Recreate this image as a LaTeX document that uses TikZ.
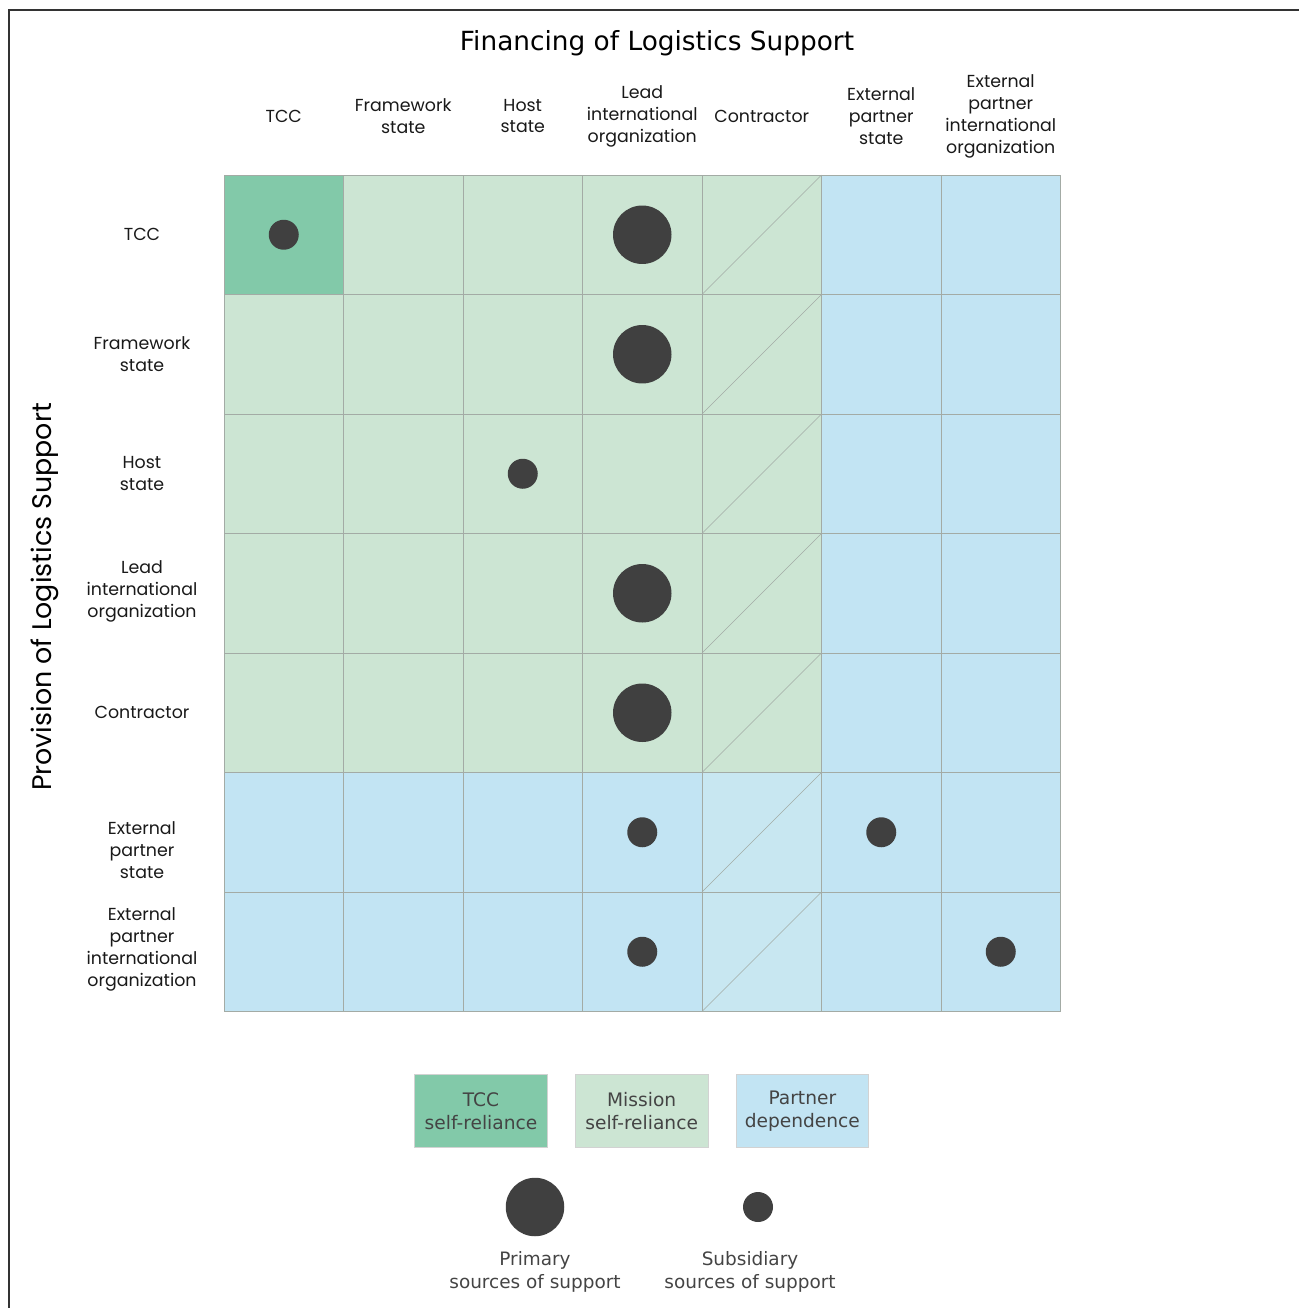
\documentclass[tikz,border=0pt]{standalone}
\usepackage{fontspec}
\setmainfont{DejaVu Sans}
\newfontfamily\gothic{Poppins}
\usetikzlibrary{positioning}

\definecolor{tccgreen}{HTML}{82C9A9}
\definecolor{missiongreen}{HTML}{CCE5D3}
\definecolor{partnerblue}{HTML}{C2E4F3}
\definecolor{contrblue}{HTML}{C8E7F1}
\definecolor{gridgray}{HTML}{A3ABA5}
\definecolor{dotgray}{HTML}{404040}
\definecolor{captiongray}{HTML}{444444}

\begin{document}
\begin{tikzpicture}[
    x=0.02cm, y=-0.02cm,
    cell/.style={draw=gridgray, line width=0.5pt, minimum size=2.39cm, inner sep=0pt, outer sep=0pt},
    diag/.style={draw=gridgray, line width=0.35pt},
    bigdot/.style={circle, fill=dotgray, minimum size=1.17cm, inner sep=0pt},
    smalldot/.style={circle, fill=dotgray, minimum size=0.6cm, inner sep=0pt},
    axislabel/.style={font=\gothic\fontsize{9.9}{12.5}\selectfont, align=center, text=black!90},
    legbox/.style={draw=gray!35, minimum width=2.66cm, minimum height=1.46cm, align=center, inner sep=0pt, font=\fontsize{10.6}{13.2}\selectfont, text=captiongray},
    legcaption/.style={align=center, font=\fontsize{10.5}{13.2}\selectfont, text=captiongray}
]
\useasboundingbox (0,0) rectangle (1299,1308);
\draw[line width=1pt, black!80] (9,1308) -- (9,10) -- (1299,10);

% titles
\node[font=\fontsize{15}{18}\selectfont] (fintitle) at (657,43) {Financing of Logistics Support};
\node[rotate=90, font=\gothic\fontsize{15.3}{18}\selectfont] (provtitle) at (45,597) {Provision of Logistics Support};

% matrix of cells
\foreach \r in {0,...,6}
  \foreach \c in {0,...,6} {
    \pgfmathtruncatemacro{\kind}{(\r==0 && \c==0) ? 0 : ((\c==4 && \r>4) ? 3 : ((\r>4 || \c>4) ? 2 : 1))}
    \edef\cellfill{\ifcase\kind tccgreen\or missiongreen\or partnerblue\or contrblue\fi}
    \node[cell, fill=\cellfill] (c\r\c) at ({224+119.5*(\c+0.5)}, {175+119.5*(\r+0.5)}) {};
  }
\foreach \r in {0,...,6}
  \draw[diag] (c\r4.south west) -- (c\r4.north east);

% column and row labels
\foreach \c/\txt in {0/TCC, 1/Framework\\state, 2/Host\\state, 3/Lead\\international\\organization, 4/Contractor, 5/External\\partner\\state, 6/External\\partner\\international\\organization}
  \node[axislabel] (col\c) at ({224+119.5*(\c+0.5)}, 116) {\txt};
\foreach \r/\txt/\dy in {0/TCC/0, 1/Framework\\state/0, 2/Host\\state/0, 3/Lead\\international\\organization/-2, 4/Contractor/0, 5/External\\partner\\state/18, 6/External\\partner\\international\\organization/-2}
  \node[axislabel] (row\r) at (142, {175+119.5*(\r+0.5)+\dy}) {\txt};

% sources of support
\foreach \r/\c/\sz in {0/0/smalldot, 0/3/bigdot, 1/3/bigdot, 2/2/smalldot, 3/3/bigdot, 4/3/bigdot, 5/3/smalldot, 5/5/smalldot, 6/3/smalldot, 6/6/smalldot}
  \node[\sz] (d\r\c) at (c\r\c) {};

% legend
\node[legbox, fill=tccgreen] (legtcc) at (481,1111) {TCC\\self-reliance};
\node[legbox, fill=missiongreen, right=0.54cm of legtcc] (legmission) {Mission\\self-reliance};
\node[legbox, fill=partnerblue, right=0.54cm of legmission] (legpartner) {Partner\\dependence};

\node[bigdot] (legbig) at (535,1207) {};
\node[smalldot] (legsmall) at (758,1207) {};
\node[legcaption] (capbig) at (535,1272) {Primary\\sources of support};
\node[legcaption] (capsmall) at (750,1272) {Subsidiary\\sources of support};
\end{tikzpicture}
\end{document}
